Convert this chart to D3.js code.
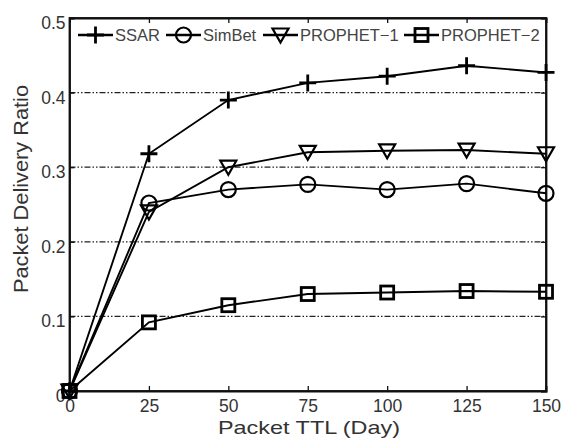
<!DOCTYPE html>
<html>
<head>
<meta charset="utf-8">
<script src="https://d3js.org/d3.v7.min.js"></script>
<style>
  body { margin: 0; background: #fff; }
  svg text { font-family: "Liberation Sans", Arial, sans-serif; }
</style>
</head>
<body>
<svg id="chart" width="565" height="448"></svg>
<script>
  // data
  const ttl = [0, 25, 50, 75, 100, 125, 150];
  const ssar = [0, 0.318, 0.390, 0.413, 0.422, 0.436, 0.427];
  const simbet = [0, 0.252, 0.270, 0.277, 0.270, 0.278, 0.265];
  const prophet1 = [0, 0.240, 0.300, 0.320, 0.322, 0.323, 0.318];
  const prophet2 = [0, 0.092, 0.115, 0.130, 0.132, 0.134, 0.133];
  const yTicks = [0, 0.1, 0.2, 0.3, 0.4, 0.5];
  const yTickLabels = ["0", "0.1", "0.2", "0.3", "0.4", "0.5"];

  const series = [
    { name: "SSAR", values: ssar, marker: "plus" },
    { name: "SimBet", values: simbet, marker: "circle" },
    { name: "PROPHET\u22121", values: prophet1, marker: "triangle" },
    { name: "PROPHET\u22122", values: prophet2, marker: "square" }
  ];

  const margin = { top: 18, right: 19, bottom: 57, left: 69.5 };
  const svg = d3.select("#chart"),
    width = +svg.attr("width") - margin.left - margin.right,
    height = +svg.attr("height") - margin.top - margin.bottom,
    g = svg.append("g").attr("transform", `translate(${margin.left}, ${margin.top})`);

  const x = d3.scaleLinear().domain([0, 150]).range([0, width]);
  const y = d3.scaleLinear().domain([0, 0.5]).range([height, 0]);

  // dash-dot grid
  g.append("g")
    .selectAll("line")
    .data(yTicks.filter(d => d > 0 && d < 0.5))
    .enter().append("line")
    .attr("x1", 0).attr("x2", width)
    .attr("y1", d => y(d)).attr("y2", d => y(d))
    .attr("stroke", "#222")
    .attr("stroke-width", 1.3)
    .attr("stroke-dasharray", "6,2,1.5,2,1.5,2");

  // axes: ticks point inward, labels outside
  g.append("g")
    .attr("transform", `translate(0,${height})`)
    .call(d3.axisBottom(x).tickValues(ttl).tickSize(-5).tickPadding(9));
  g.append("g")
    .call(d3.axisLeft(y).tickValues(yTicks).tickFormat((d, i) => yTickLabels[i]).tickSize(-5).tickPadding(4))
    .selectAll(".tick text").attr("dy", "0.6em");
  g.append("g")
    .call(d3.axisTop(x).tickValues(ttl).tickSize(-5).tickFormat(""));
  g.append("g")
    .attr("transform", `translate(${width},0)`)
    .call(d3.axisRight(y).tickValues(yTicks).tickSize(-5).tickFormat(""));

  g.selectAll(".domain").attr("stroke", "#111").attr("stroke-width", 1.8);
  g.selectAll(".tick line").attr("stroke", "#111").attr("stroke-width", 1.3);
  g.selectAll(".tick text").attr("fill", "#333").style("font-size", "17.5px");

  g.append("rect")
    .attr("width", width).attr("height", height)
    .attr("fill", "none").attr("stroke", "#111").attr("stroke-width", 1.8);

  // axis titles (the original glyphs are a bit wide, so stretch them)
  svg.append("text")
    .attr("x", 309)
    .attr("y", 434)
    .attr("text-anchor", "middle")
    .attr("fill", "#333")
    .attr("textLength", 182)
    .attr("lengthAdjust", "spacingAndGlyphs")
    .style("font-size", "19px")
    .text("Packet TTL (Day)");
  svg.append("text")
    .attr("transform", `translate(28,189) rotate(-90)`)
    .attr("text-anchor", "middle")
    .attr("fill", "#333")
    .attr("textLength", 208)
    .attr("lengthAdjust", "spacingAndGlyphs")
    .style("font-size", "19.5px")
    .text("Packet Delivery Ratio");

  function drawMarker(sel, type) {
    if (type === "plus") {
      sel.append("path").attr("d", "M-8.5,0H8.5M0,-8.5V8.5")
        .attr("stroke", "#000").attr("stroke-width", 2.8).attr("fill", "none");
    } else if (type === "circle") {
      sel.append("circle").attr("r", 7.5)
        .attr("stroke", "#000").attr("stroke-width", 2.2).attr("fill", "none");
    } else if (type === "triangle") {
      sel.append("path").attr("d", "M-8,-6.5H8L0,7.5Z")
        .attr("stroke", "#000").attr("stroke-width", 2.2).attr("fill", "none");
    } else {
      sel.append("rect").attr("x", -6.5).attr("y", -6.5).attr("width", 13).attr("height", 13)
        .attr("stroke", "#000").attr("stroke-width", 2.8).attr("fill", "none");
    }
  }

  const line = d3.line()
    .x((d, i) => x(ttl[i]))
    .y(d => y(d));

  for (const s of series) {
    g.append("path")
      .datum(s.values)
      .attr("d", line)
      .attr("fill", "none")
      .attr("stroke", "#000")
      .attr("stroke-width", 1.9);

    g.selectAll(null)
      .data(s.values)
      .enter().append("g")
      .attr("transform", (d, i) => `translate(${x(ttl[i])},${y(d)})`)
      .each(function () { drawMarker(d3.select(this), s.marker); });
  }

  // legend, one row across the top
  const legendX = [78, 166, 263, 404];
  const legend = g.append("g").attr("transform", `translate(0,${35 - margin.top})`);
  series.forEach((s, i) => {
    const lx = legendX[i] - margin.left;
    const item = legend.append("g");
    item.append("line")
      .attr("x1", lx).attr("x2", lx + 35)
      .attr("stroke", "#000").attr("stroke-width", 2.4);
    drawMarker(item.append("g").attr("transform", `translate(${lx + 17.5},0)`), s.marker);
    item.append("text")
      .attr("x", lx + 37)
      .attr("dy", "0.36em")
      .attr("fill", "#444")
      .style("font-size", "16.5px")
      .text(s.name);
  });
</script>
</body>
</html>
